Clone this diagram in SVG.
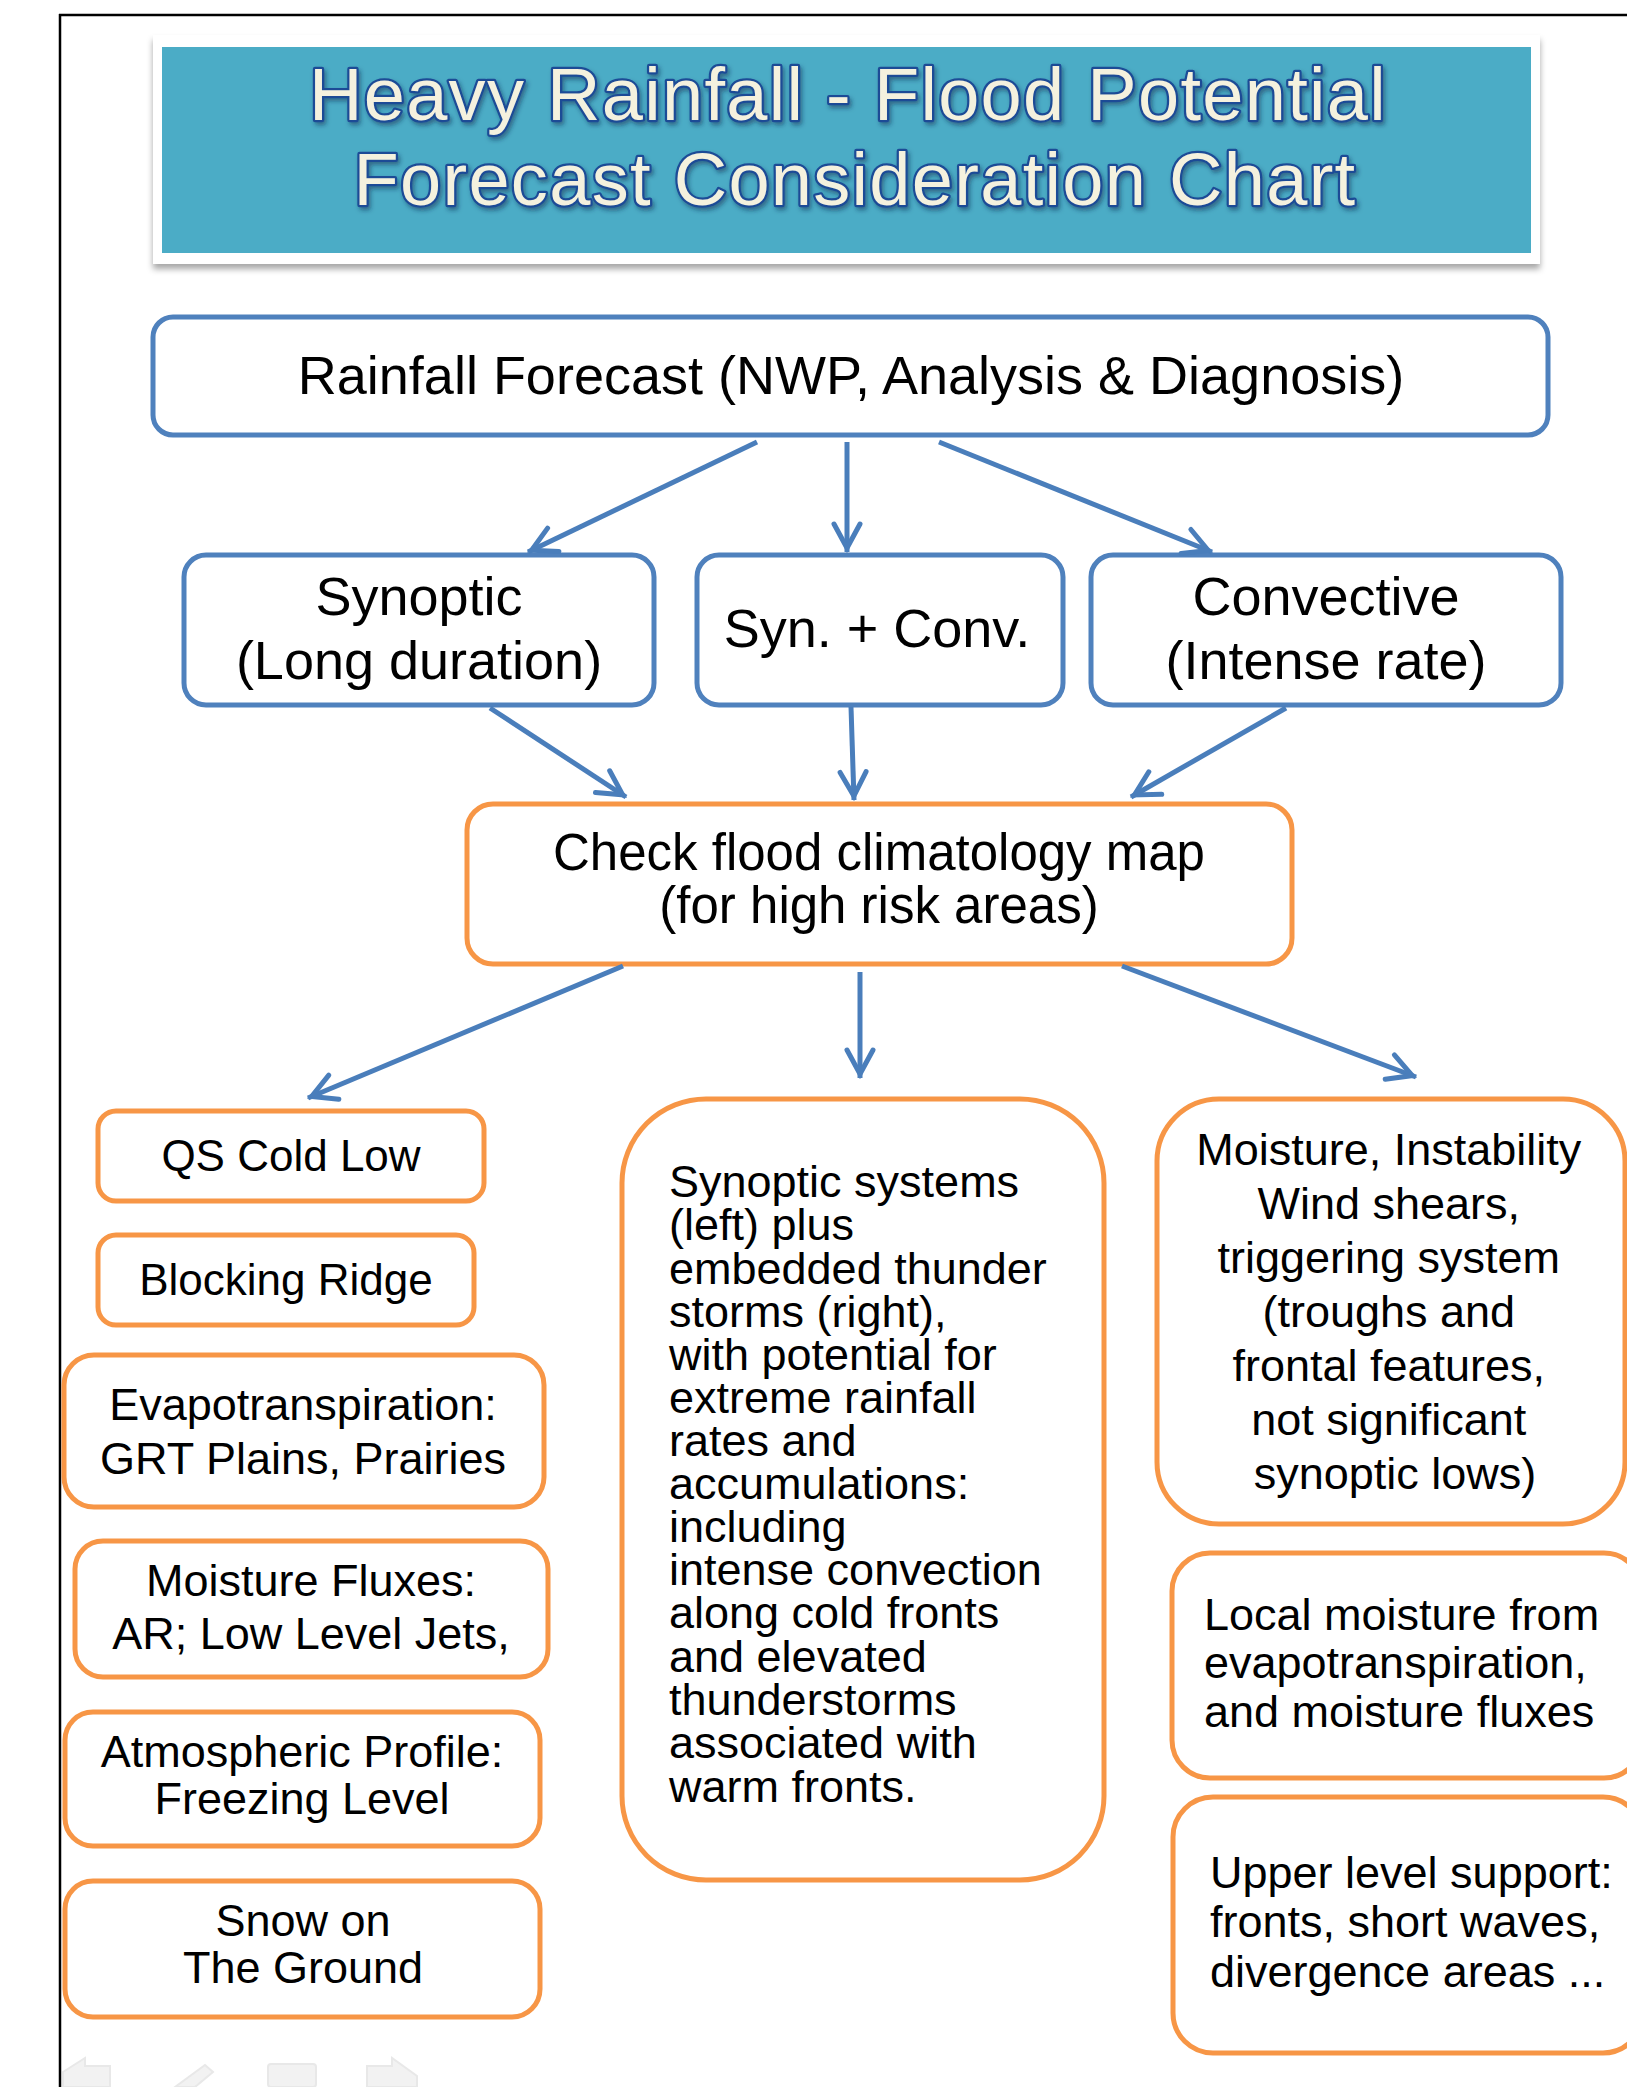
<svg xmlns="http://www.w3.org/2000/svg" width="1627" height="2087" viewBox="0 0 1627 2087">
<style>
text{font-family:"Liberation Sans",Arial,sans-serif;fill:#000}
.title{font-size:74px;letter-spacing:1.3px;fill:#F4F1DE;stroke:#1C4B96;stroke-width:4.5px;paint-order:stroke;stroke-linejoin:round;text-anchor:middle}
.blue{fill:#fff;stroke:#4F81BD;stroke-width:5}
.orange{fill:#fff;stroke:#F79646;stroke-width:5}
.t54{font-size:54px;text-anchor:middle}
.t53{font-size:54px;text-anchor:middle}
.t51{font-size:51px;text-anchor:middle}
.t45{font-size:45px;text-anchor:middle}
.t45l{font-size:45px}
.conn line{stroke:#4A7EBB;stroke-width:5;marker-end:url(#ah)}
.faint{fill:#f2f2f2;stroke:#e8e8e8;stroke-width:2}
</style>
<defs>
<marker id="ah" markerUnits="userSpaceOnUse" markerWidth="60" markerHeight="60" viewBox="-40 -30 60 60" refX="0" refY="0" orient="auto" overflow="visible">
<path d="M-28,-13 L-4,0 L-28,13" fill="none" stroke="#4A7EBB" stroke-width="5" stroke-linecap="round"/>
</marker>
<filter id="sh" x="-5%" y="-10%" width="110%" height="130%">
<feDropShadow dx="0" dy="5" stdDeviation="3" flood-color="#000" flood-opacity="0.35"/>
</filter>
<filter id="tsh" x="-5%" y="-20%" width="110%" height="140%">
<feDropShadow dx="2" dy="3" stdDeviation="2" flood-color="#0a2a50" flood-opacity="0.5"/>
</filter>
</defs>
<rect x="0" y="0" width="1627" height="2087" fill="#fff"/>
<!-- frame -->
<line x1="59" y1="15" x2="1627" y2="15" stroke="#000" stroke-width="2.5"/>
<line x1="60" y1="14" x2="60" y2="2087" stroke="#000" stroke-width="2.5"/>

<g id="title">
<rect x="153" y="35" width="1387" height="229" fill="#fff" filter="url(#sh)"/>
<rect x="162" y="47" width="1369" height="206" fill="#4BACC6"/>
<g filter="url(#tsh)">
<text class="title" x="848" y="120">Heavy Rainfall - Flood Potential</text>
<text class="title" x="855" y="205">Forecast Consideration Chart</text>
</g>
</g>

<g id="rainfall">
<rect class="blue" x="153" y="317" width="1395" height="118" rx="20"/>
<text class="t53" x="851" y="394">Rainfall Forecast (NWP, Analysis &amp; Diagnosis)</text>
</g>

<g id="synoptic">
<rect class="blue" x="184" y="555" width="470" height="150" rx="22"/>
<text class="t54" x="419" y="615">Synoptic</text>
<text class="t54" x="419" y="679">(Long duration)</text>
</g>
<g id="synconv">
<rect class="blue" x="697" y="555" width="366" height="150" rx="22"/>
<text class="t54" x="877" y="647">Syn. + Conv.</text>
</g>
<g id="convective">
<rect class="blue" x="1091" y="555" width="470" height="150" rx="22"/>
<text class="t54" x="1326" y="615">Convective</text>
<text class="t54" x="1326" y="679">(Intense rate)</text>
</g>

<g id="check">
<rect class="orange" x="467" y="804" width="825" height="160" rx="26"/>
<text class="t51" x="879" y="870">Check flood climatology map</text>
<text class="t51" x="879" y="923">(for high risk areas)</text>
</g>

<g id="qs">
<rect class="orange" x="98" y="1111" width="386" height="90" rx="18"/>
<text class="t45" x="291" y="1171" style="font-size:44px">QS Cold Low</text>
</g>
<g id="blocking">
<rect class="orange" x="98" y="1235" width="376" height="90" rx="18"/>
<text class="t45" x="286" y="1295" style="font-size:44px">Blocking Ridge</text>
</g>
<g id="evapo">
<rect class="orange" x="64" y="1355" width="480" height="152" rx="30"/>
<text class="t45" x="303" y="1420">Evapotranspiration:</text>
<text class="t45" x="303" y="1474">GRT Plains, Prairies</text>
</g>
<g id="fluxes">
<rect class="orange" x="75" y="1541" width="473" height="136" rx="28"/>
<text class="t45" x="311" y="1596">Moisture Fluxes:</text>
<text class="t45" x="311" y="1649">AR; Low Level Jets,</text>
</g>
<g id="atmos">
<rect class="orange" x="65" y="1712" width="475" height="134" rx="28"/>
<text class="t45" x="302" y="1767">Atmospheric Profile:</text>
<text class="t45" x="302" y="1814">Freezing Level</text>
</g>
<g id="snow">
<rect class="orange" x="65" y="1881" width="475" height="136" rx="28"/>
<text class="t45" x="303" y="1936">Snow on</text>
<text class="t45" x="303" y="1983">The Ground</text>
</g>

<g id="middle">
<rect class="orange" x="622" y="1099" width="482" height="781" rx="84"/>
<text class="t45l" x="669">
<tspan x="669" y="1197">Synoptic systems</tspan>
<tspan x="669" y="1240">(left) plus</tspan>
<tspan x="669" y="1284">embedded thunder</tspan>
<tspan x="669" y="1327">storms (right),</tspan>
<tspan x="669" y="1370">with potential for</tspan>
<tspan x="669" y="1413">extreme rainfall</tspan>
<tspan x="669" y="1456">rates and</tspan>
<tspan x="669" y="1499">accumulations:</tspan>
<tspan x="669" y="1542">including</tspan>
<tspan x="669" y="1585">intense convection</tspan>
<tspan x="669" y="1628">along cold fronts</tspan>
<tspan x="669" y="1672">and elevated</tspan>
<tspan x="669" y="1715">thunderstorms</tspan>
<tspan x="669" y="1758">associated with</tspan>
<tspan x="669" y="1802">warm fronts.</tspan>
</text>
</g>

<g id="moisture">
<rect class="orange" x="1157" y="1099" width="468" height="425" rx="62"/>
<text class="t45" x="1395">
<tspan x="1395" y="1165">Moisture, Instability</tspan>
<tspan x="1395" y="1219">Wind shears,</tspan>
<tspan x="1395" y="1273">triggering system</tspan>
<tspan x="1395" y="1327">(troughs and</tspan>
<tspan x="1395" y="1381">frontal features,</tspan>
<tspan x="1395" y="1435">not significant</tspan>
<tspan x="1395" y="1489">synoptic lows)</tspan>
</text>
</g>
<g id="local">
<rect class="orange" x="1172" y="1553" width="470" height="225" rx="38"/>
<text class="t45l">
<tspan x="1204" y="1630">Local moisture from</tspan>
<tspan x="1204" y="1678">evapotranspiration,</tspan>
<tspan x="1204" y="1727">and moisture fluxes</tspan>
</text>
</g>
<g id="upper">
<rect class="orange" x="1173" y="1797" width="470" height="256" rx="40"/>
<text class="t45l">
<tspan x="1210" y="1888">Upper level support:</tspan>
<tspan x="1210" y="1937">fronts, short waves,</tspan>
<tspan x="1210" y="1987">divergence areas ...</tspan>
</text>
</g>

<g id="connectors" class="conn">
<line x1="757" y1="442" x2="528" y2="552"/>
<line x1="847" y1="442" x2="847" y2="552"/>
<line x1="939" y1="442" x2="1212" y2="552"/>
<line x1="490" y1="708" x2="626" y2="797"/>
<line x1="851" y1="707" x2="854" y2="800"/>
<line x1="1286" y1="708" x2="1131" y2="797"/>
<line x1="623" y1="966" x2="308" y2="1098"/>
<line x1="860" y1="972" x2="860" y2="1078"/>
<line x1="1122" y1="966" x2="1416" y2="1077"/>
</g>

<g id="nav" class="faint">
<path d="M63,2072 L85,2058 L85,2066 L110,2066 L110,2087 L63,2087 Z"/>
<path d="M175,2087 L205,2065 L213,2072 L195,2087 Z"/>
<rect x="268" y="2064" width="48" height="23" rx="3"/>
<path d="M367,2066 L392,2066 L392,2058 L417,2076 L417,2087 L367,2087 Z"/>
</g>
</svg>
